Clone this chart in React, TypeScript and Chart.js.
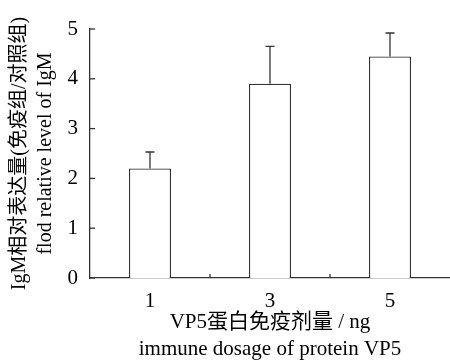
import React, { useEffect, useRef } from "react";
import { Chart, registerables } from "chart.js";

Chart.register(...registerables);

const categories = ["1", "3", "5"];
const means = [2.2, 3.9, 4.45];
const errors = [0.33, 0.75, 0.47];
const yMin = 0;
const yMax = 5;
const yStep = 1;
const xTitle = ["VP5蛋白免疫剂量 / ng", "immune dosage of protein VP5"];
const yTitle = ["IgM相对表达量(免疫组/对照组)", "flod relative level of IgM"];

const FONT = "'Liberation Serif', 'Times New Roman', 'Noto Sans CJK SC', serif";
const INK = "#333";

const decorPlugin = {
  id: "decor",
  afterDatasetsDraw(chart: any) {
    const ctx = chart.ctx;
    const x = chart.scales.x;
    const y = chart.scales.y;
    const area = chart.chartArea;
    ctx.save();
    ctx.strokeStyle = INK;
    ctx.lineWidth = 1.3;
    // error bars (upper only)
    const meta = chart.getDatasetMeta(0);
    meta.data.forEach((bar: any, i: number) => {
      const px = bar.x;
      const yb = y.getPixelForValue(means[i]);
      const yt = y.getPixelForValue(means[i] + errors[i]);
      ctx.beginPath();
      ctx.moveTo(px, yb);
      ctx.lineTo(px, yt);
      ctx.moveTo(px - 4.5, yt);
      ctx.lineTo(px + 4.5, yt);
      ctx.stroke();
    });
    // inward y ticks
    y.ticks.forEach((t: any) => {
      const py = y.getPixelForValue(t.value);
      ctx.beginPath();
      ctx.moveTo(area.left, py);
      ctx.lineTo(area.left + 5, py);
      ctx.stroke();
    });
    // inward x ticks at category boundaries
    for (let i = 1; i < categories.length; i++) {
      const px = (x.getPixelForValue(i - 1) + x.getPixelForValue(i)) / 2;
      ctx.beginPath();
      ctx.moveTo(px, area.bottom);
      ctx.lineTo(px, area.bottom - 4);
      ctx.stroke();
    }
    ctx.restore();
  },
};

export default function App() {
  const ref = useRef<HTMLCanvasElement | null>(null);
  useEffect(() => {
    if (!ref.current) return;
    const chart = new Chart(ref.current, {
      type: "bar",
      data: {
        labels: categories,
        datasets: [
          {
            data: means,
            backgroundColor: "#ffffff",
            borderColor: INK,
            borderWidth: 1.3,
            barPercentage: 0.35,
            categoryPercentage: 1,
          },
        ],
      },
      options: {
        animation: false,
        responsive: false,
        devicePixelRatio: 1,
        layout: { padding: { top: 29, right: 0, bottom: 0, left: 0 } },
        plugins: {
          legend: { display: false },
          tooltip: { enabled: false },
        },
        scales: {
          x: {
            grid: { display: false, drawTicks: false },
            border: { display: true, color: INK, width: 1.3 },
            ticks: { color: "#000", font: { family: FONT, size: 21 }, padding: 11 },
            title: {
              display: true,
              text: xTitle,
              color: "#000",
              font: { family: FONT, size: 21, lineHeight: 1.29 },
              padding: { top: 0, bottom: 0 },
            },
            afterFit: (s: any) => {
              s.height = 85;
            },
          },
          y: {
            min: yMin,
            max: yMax,
            grid: { display: false, drawTicks: false },
            border: { display: true, color: INK, width: 1.3 },
            ticks: {
              stepSize: yStep,
              color: "#000",
              font: { family: FONT, size: 21 },
              padding: 12,
            },
            title: {
              display: true,
              text: yTitle,
              color: "#000",
              font: { family: FONT, size: 20, lineHeight: 1.3 },
              padding: { top: 7, bottom: 0 },
            },
            afterFit: (s: any) => {
              s.width = 90;
            },
          },
        },
      },
      plugins: [decorPlugin],
    });
    return () => chart.destroy();
  }, []);
  return (
    <div style={{ position: "fixed", left: 0, top: 0, width: 450, height: 363, background: "#fff" }}>
      <canvas ref={ref} width={450} height={363} style={{ display: "block" }} />
    </div>
  );
}
